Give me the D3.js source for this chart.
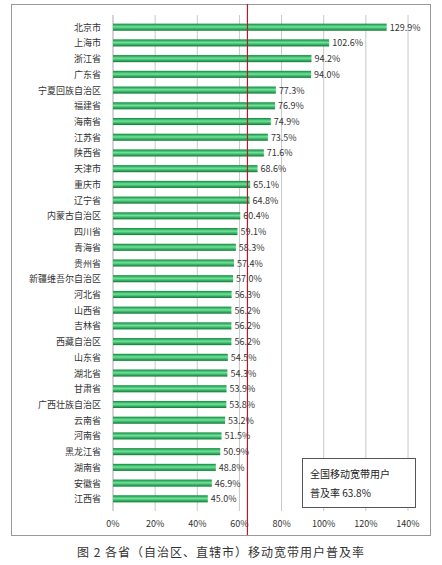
<!DOCTYPE html>
<html><head><meta charset="utf-8">
<script src="https://cdn.jsdelivr.net/npm/d3@7"></script>
<style>body{margin:0;background:#fff;font-family:"Noto Sans CJK SC",sans-serif}</style>
</head><body><div id="chart"></div>
<script>
const provinces = ["北京市","上海市","浙江省","广东省","宁夏回族自治区","福建省","海南省","江苏省","陕西省","天津市","重庆市","辽宁省","内蒙古自治区","四川省","青海省","贵州省","新疆维吾尔自治区","河北省","山西省","吉林省","西藏自治区","山东省","湖北省","甘肃省","广西壮族自治区","云南省","河南省","黑龙江省","湖南省","安徽省","江西省"];
const rates = [129.9,102.6,94.2,94.0,77.3,76.9,74.9,73.5,71.6,68.6,65.1,64.8,60.4,59.1,58.3,57.4,57.0,56.3,56.2,56.2,56.2,54.5,54.3,53.9,53.8,53.2,51.5,50.9,48.8,46.9,45.0];
const ticks = [0,20,40,60,80,100,120,140];
const national = 63.8;

const W = 442, H = 565;
const svg = d3.select("#chart").append("svg").attr("width", W).attr("height", H);
svg.append("rect").attr("x", 11.5).attr("y", 4.5).attr("width", 419).attr("height", 531)
  .attr("fill", "#fff").attr("stroke", "#999");

const x = d3.scaleLinear().domain([0, 140]).range([113, 408]);
const y = d3.scaleBand().domain(provinces).range([15, 511]).padding(0.55);

const defs = svg.append("defs");
const g = defs.append("linearGradient").attr("id", "bar").attr("x1", 0).attr("x2", 0).attr("y1", 0).attr("y2", 1);
g.append("stop").attr("offset", "0%").attr("stop-color", "#0f8a3c");
g.append("stop").attr("offset", "45%").attr("stop-color", "#6fe39a");
g.append("stop").attr("offset", "100%").attr("stop-color", "#0b7a33");

// grid
svg.selectAll(".grid").data(ticks.slice(1)).enter().append("line")
  .attr("x1", d => x(d)).attr("x2", d => x(d)).attr("y1", 15).attr("y2", 511)
  .attr("stroke", "#c8c8c8");
svg.append("line").attr("x1", x(0)).attr("x2", x(0)).attr("y1", 15).attr("y2", 511).attr("stroke", "#aaa");

// bars
svg.selectAll(".bar").data(rates).enter().append("rect")
  .attr("x", x(0)).attr("y", (d, i) => y(provinces[i]))
  .attr("width", d => x(d) - x(0)).attr("height", y.bandwidth())
  .attr("fill", "url(#bar)");

svg.selectAll(".val").data(rates).enter().append("text")
  .attr("x", d => x(d) + 3).attr("y", (d, i) => y(provinces[i]) + y.bandwidth() / 2 + 3.5)
  .attr("font-size", 9).attr("fill", "#333").text(d => d.toFixed(1) + "%");

svg.selectAll(".cat").data(provinces).enter().append("text")
  .attr("x", 101).attr("y", d => y(d) + y.bandwidth() / 2 + 3.5)
  .attr("text-anchor", "end").attr("font-size", 9).attr("fill", "#333").text(d => d);

// axis labels
svg.selectAll(".tick").data(ticks).enter().append("text")
  .attr("x", d => x(d)).attr("y", 527).attr("text-anchor", "middle")
  .attr("font-size", 9).attr("fill", "#333").text(d => d + "%");

// national line
svg.append("line").attr("x1", x(national)).attr("x2", x(national)).attr("y1", 4).attr("y2", 535)
  .attr("stroke", "#b01c2e").attr("stroke-width", 1.2);

// annotation
svg.append("rect").attr("x", 302.5).attr("y", 458.5).attr("width", 113).attr("height", 49)
  .attr("fill", "#fff").attr("stroke", "#555");
svg.append("text").attr("x", 310).attr("y", 478).attr("font-size", 10).attr("fill", "#222").text("全国移动宽带用户");
svg.append("text").attr("x", 310).attr("y", 497).attr("font-size", 10).attr("fill", "#222").text("普及率 " + national + "%");

svg.append("text").attr("x", W / 2).attr("y", 557).attr("text-anchor", "middle")
  .attr("font-size", 12).attr("fill", "#333").attr("letter-spacing", 1).text("图 2 各省（自治区、直辖市）移动宽带用户普及率");
</script></body></html>
